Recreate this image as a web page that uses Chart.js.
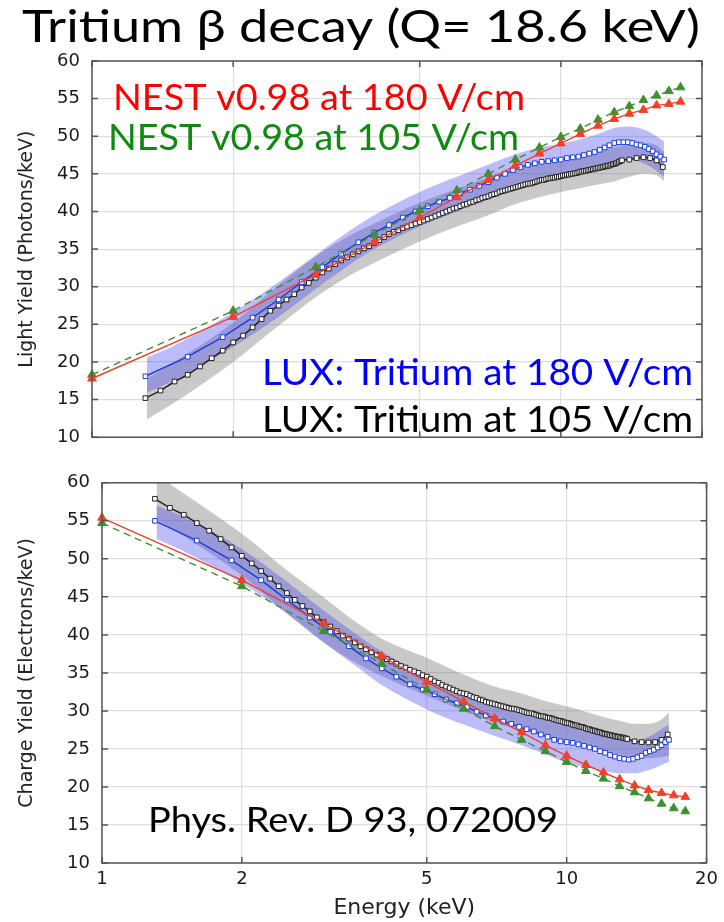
<!DOCTYPE html>
<html>
<head>
<meta charset="utf-8">
<script src="https://cdn.jsdelivr.net/npm/chart.js@4.4.0/dist/chart.umd.min.js"></script>
<style>
    html, body { margin: 0; padding: 0; background: #fff; }
    #wrap { position: relative; width: 724px; height: 922px; }
    #lightChart { position: absolute; left: 0; top: 0; }
    #chargeChart { position: absolute; left: 0; top: 460px; }
</style>
</head>
<body>
<div id="wrap">
    <canvas id="lightChart" width="724" height="460"></canvas>
    <canvas id="chargeChart" width="724" height="462"></canvas>
</div>
<script>
// energy ticks (keV)
const energyTicks = [1, 2, 5, 10, 20];

// NEST v0.98 model points
const nestEnergy = [1, 2, 3, 4, 5, 6, 7, 8, 9, 10, 11, 12, 13, 14, 15, 16, 17, 18];
const nestLight180 = [17.8, 26.0, 31.6, 35.9, 39.2, 41.9, 44.2, 46.1, 47.7, 49.05, 50.3, 51.4, 52.3, 53.0, 53.5, 54.1, 54.3, 54.6];
const nestLight105 = [18.3, 26.8, 32.6, 36.9, 40.2, 42.8, 45.0, 46.9, 48.5, 49.9, 51.0, 52.2, 53.2, 54.0, 54.8, 55.4, 56.0, 56.5];
const nestCharge180 = [55.4, 47.2, 41.5, 37.2, 33.8, 31.25, 29.0, 27.2, 25.5, 24.1, 22.9, 21.9, 21.0, 20.2, 19.6, 19.2, 18.9, 18.7];
const nestCharge105 = [54.7, 46.4, 40.5, 36.2, 32.8, 30.3, 28.0, 26.2, 24.7, 23.3, 22.1, 21.1, 20.1, 19.3, 18.5, 17.8, 17.2, 16.8];

// LUX tritium at 180 V/cm
const lux180Energy = [1.3, 1.6, 1.9, 2.2, 2.5, 2.8, 3.1, 3.4, 3.7, 4.0,
    4.3, 4.6, 4.9, 5.2, 5.5, 5.8, 6.1, 6.4, 6.7, 7.0,
    7.3, 7.6, 7.9, 8.2, 8.5, 8.8, 9.1, 9.4, 9.7, 10.0,
    10.3, 10.6, 10.9, 11.2, 11.5, 11.8, 12.1, 12.4, 12.7, 13.0,
    13.3, 13.6, 13.9, 14.2, 14.5, 14.8, 15.1, 15.4, 15.7, 16.0,
    16.3, 16.6];
const lux180Light = [18.1, 20.7, 23.3, 25.9, 28.3, 30.6, 32.6, 34.4, 35.9, 37.2,
    38.2, 39.2, 40.0, 40.7, 41.3, 41.8, 42.4, 42.9, 43.4, 43.9,
    44.5, 45.0, 45.5, 45.9, 46.2, 46.4, 46.6, 46.7, 46.8, 46.9,
    47.1, 47.2, 47.3, 47.5, 47.7, 47.9, 48.2, 48.5, 48.8, 49.1,
    49.2, 49.2, 49.2, 49.1, 48.9, 48.8, 48.6, 48.3, 48.0, 47.6,
    47.3, 46.9];
const lux180Charge = [55.0, 52.4, 49.8, 47.2, 44.6, 42.3, 40.4, 38.5, 36.9, 35.6,
    34.5, 33.5, 32.8, 32.2, 31.5, 31.0, 30.5, 29.9, 29.4, 29.0,
    28.6, 28.3, 27.9, 27.6, 27.3, 26.9, 26.6, 26.2, 26.0, 25.9,
    25.8, 25.6, 25.4, 25.2, 25.0, 24.7, 24.5, 24.2, 24.0, 23.8,
    23.7, 23.6, 23.7, 23.9, 24.1, 24.5, 24.7, 24.9, 25.2, 25.5,
    25.9, 26.2];

// LUX tritium at 105 V/cm
const lux105Energy = [1.3, 1.4, 1.5, 1.6, 1.7, 1.8, 1.9,
    2.0, 2.1, 2.2, 2.3, 2.4, 2.5, 2.6, 2.7, 2.8, 2.9,
    3.0, 3.1, 3.2, 3.3, 3.4, 3.5, 3.6, 3.7, 3.8, 3.9,
    4.0, 4.1, 4.2, 4.3, 4.4, 4.5, 4.6, 4.7, 4.8, 4.9,
    5.0, 5.1, 5.2, 5.3, 5.4, 5.5, 5.6, 5.7, 5.8, 5.9,
    6.0, 6.1, 6.2, 6.3, 6.4, 6.5, 6.6, 6.7, 6.8, 6.9,
    7.0, 7.1, 7.2, 7.3, 7.4, 7.5, 7.6, 7.7, 7.8, 7.9,
    8.0, 8.1, 8.2, 8.3, 8.4, 8.5, 8.6, 8.7, 8.8, 8.9,
    9.0, 9.1, 9.2, 9.3, 9.4, 9.5, 9.6, 9.7, 9.8, 9.9,
    10.0, 10.1, 10.2, 10.3, 10.4, 10.5, 10.6, 10.7, 10.8, 10.9,
    11.0, 11.1, 11.2, 11.3, 11.4, 11.5, 11.6, 11.7, 11.8, 11.9,
    12.0, 12.1, 12.2, 12.3, 12.4, 12.5, 12.6, 12.7, 12.8, 12.9,
    13.0, 13.1, 13.2, 13.3, 13.4, 13.5,
    14.0, 14.5, 15.0, 15.5, 16.0, 16.5];
const lux105Light = [15.2, 16.2, 17.4, 18.3, 19.4, 20.5, 21.5,
    22.6, 23.5, 24.6, 25.7, 26.8, 27.5, 28.3, 29.0, 29.9, 30.5,
    31.2, 31.9, 32.4, 33.0, 33.5, 33.9, 34.3, 34.7, 35.1, 35.4,
    35.8, 36.2, 36.6, 37.0, 37.3, 37.5, 37.8, 38.0, 38.2, 38.4,
    38.6, 38.8, 39.0, 39.2, 39.4, 39.6, 39.8, 40.0, 40.2, 40.4,
    40.5, 40.7, 40.9, 41.0, 41.2, 41.3, 41.5, 41.6, 41.8, 41.9,
    42.0, 42.2, 42.3, 42.4, 42.6, 42.7, 42.8, 42.9, 43.0, 43.1,
    43.2, 43.3, 43.4, 43.5, 43.6, 43.7, 43.7, 43.8, 43.9, 44.0,
    44.1, 44.2, 44.2, 44.3, 44.4, 44.4, 44.5, 44.5, 44.6, 44.6,
    44.7, 44.8, 44.8, 44.9, 44.9, 45.0, 45.0, 45.1, 45.1, 45.2,
    45.3, 45.3, 45.4, 45.4, 45.5, 45.5, 45.6, 45.6, 45.7, 45.7,
    45.8, 45.8, 45.9, 45.9, 46.0, 46.0, 46.1, 46.1, 46.2, 46.3,
    46.3, 46.4, 46.5, 46.6, 46.7, 46.8,
    46.9, 47.1, 47.2, 47.1, 46.8, 45.9];
const lux105Charge = [57.9, 56.7, 55.8, 54.7, 53.7, 52.6, 51.5,
    50.4, 49.4, 48.4, 47.4, 46.4, 45.5, 44.6, 43.8, 43.1, 42.3,
    41.7, 41.1, 40.5, 39.9, 39.5, 39.0, 38.5, 38.1, 37.7, 37.4,
    37.1, 36.8, 36.5, 36.2, 35.9, 35.7, 35.4, 35.2, 35.0, 34.7,
    34.5, 34.2, 33.9, 33.7, 33.4, 33.2, 33.0, 32.8, 32.6, 32.4,
    32.3, 32.2, 32.0, 31.8, 31.7, 31.5, 31.4, 31.2, 31.1, 31.0,
    30.9, 30.8, 30.7, 30.6, 30.5, 30.4, 30.3, 30.3, 30.2, 30.1,
    30.0, 29.9, 29.8, 29.7, 29.7, 29.6, 29.5, 29.4, 29.3, 29.3,
    29.2, 29.1, 29.1, 29.0, 28.9, 28.8, 28.7, 28.7, 28.6, 28.5,
    28.4, 28.4, 28.3, 28.2, 28.1, 28.1, 28.0, 27.9, 27.9, 27.8,
    27.7, 27.6, 27.6, 27.5, 27.4, 27.4, 27.3, 27.2, 27.2, 27.1,
    27.0, 27.0, 26.9, 26.9, 26.8, 26.8, 26.7, 26.7, 26.6, 26.6,
    26.6, 26.5, 26.5, 26.4, 26.4, 26.3,
    26.0, 25.9, 25.85, 25.9, 26.2, 26.9];

// uncertainty bands (upper / lower edges)
const bandEnergy = [1.31, 1.5, 2, 2.5, 3, 3.5, 4, 5, 6, 7, 8, 9, 10, 11, 12, 13, 14, 15, 16, 16.6];
const band180LightHi = [20.6, 22.2, 26.6, 30.6, 34.2, 37.2, 39.5, 42.6, 44.6, 46.2, 47.6, 48.5, 49.0, 49.6, 50.3, 51.1, 51.3, 50.9, 50.0, 49.3];
const band180LightLo = [15.9, 17.6, 22.0, 26.0, 29.7, 32.7, 35.0, 38.0, 40.0, 41.6, 43.2, 44.2, 44.6, 45.1, 45.8, 46.7, 46.9, 46.4, 45.4, 44.6];
const band105LightHi = [17.8, 20.0, 25.2, 30.2, 34.0, 36.6, 38.4, 41.2, 43.0, 44.5, 45.6, 46.4, 47.0, 47.5, 48.0, 48.5, 48.9, 49.1, 48.8, 47.9];
const band105LightLo = [12.4, 14.6, 20.0, 24.8, 28.6, 31.3, 33.2, 36.0, 38.0, 39.5, 41.0, 41.9, 42.6, 43.1, 43.6, 44.0, 44.6, 45.0, 44.8, 44.0];
const band180ChargeHi = [57.0, 55.5, 51.3, 47.0, 43.2, 40.2, 37.8, 34.6, 32.6, 31.1, 30.0, 29.0, 28.2, 27.5, 26.8, 26.2, 26.0, 26.6, 27.6, 28.2];
const band180ChargeLo = [52.6, 51.0, 46.8, 42.8, 39.0, 36.0, 33.4, 30.2, 28.2, 26.7, 25.5, 24.3, 23.2, 22.6, 22.1, 21.8, 21.8, 22.2, 22.9, 23.3];
const band105ChargeHi = [61.0, 58.6, 53.3, 48.5, 44.9, 41.8, 39.5, 37.0, 34.8, 33.2, 32.3, 31.3, 30.6, 29.9, 29.2, 28.7, 28.3, 28.3, 28.9, 29.8];
const band105ChargeLo = [55.2, 53.0, 47.8, 42.8, 39.0, 36.4, 34.6, 32.0, 30.0, 28.5, 27.5, 26.8, 26.0, 25.4, 24.8, 24.3, 23.9, 23.8, 23.9, 24.1];

const topLabels = [
    { text: "Tritium \u03b2 decay (Q= 18.6 keV)", x: 22, y: 42, width: 678, size: 44, color: "#000000" },
    { text: "NEST v0.98 at 180 V/cm", x: 113, y: 110, width: 412, size: 37, color: "#ff0000" },
    { text: "NEST v0.98 at 105 V/cm", x: 108, y: 150, width: 411, size: 37, color: "#0e8a0e" },
    { text: "LUX: Tritium at 180 V/cm", x: 262, y: 385, width: 431, size: 36, color: "#0000ff" },
    { text: "LUX: Tritium at 105 V/cm", x: 262, y: 432, width: 431, size: 36, color: "#000000" },
];
const bottomLabels = [
    { text: "Phys. Rev. D 93, 072009", x: 148, y: 372, width: 410, size: 35, color: "#000000" },
];

Chart.defaults.font.family = '"DejaVu Sans", sans-serif';
Chart.defaults.color = "#1a1a1a";

function pts(xs, ys) {
    return xs.map((x, i) => ({ x: x, y: ys[i] }));
}

const framePlugin = {
    id: "frame",
    afterDraw(chart) {
        const ctx = chart.ctx;
        const a = chart.chartArea;
        const xs = chart.scales.x;
        const ys = chart.scales.y;
        ctx.save();
        ctx.strokeStyle = "#555555";
        ctx.lineWidth = 1.5;
        ctx.beginPath();
        xs.ticks.forEach(function (t) {
            const px = xs.getPixelForValue(t.value);
            ctx.moveTo(px, a.bottom);
            ctx.lineTo(px, a.bottom - 6);
            ctx.moveTo(px, a.top);
            ctx.lineTo(px, a.top + 6);
        });
        ys.ticks.forEach(function (t) {
            const py = ys.getPixelForValue(t.value);
            ctx.moveTo(a.left, py);
            ctx.lineTo(a.left + 6, py);
            ctx.moveTo(a.right, py);
            ctx.lineTo(a.right - 6, py);
        });
        ctx.stroke();
        ctx.strokeRect(a.left, a.top, a.right - a.left, a.bottom - a.top);
        ctx.restore();
    },
};

const textPlugin = {
    id: "bigText",
    afterDraw(chart, args, opts) {
        const ctx = chart.ctx;
        (opts.items || []).forEach(function (item) {
            ctx.save();
            ctx.font = item.size + "px Lato";
            const w = ctx.measureText(item.text).width;
            ctx.translate(item.x, item.y);
            ctx.scale(item.width / w, 1);
            ctx.fillStyle = item.color;
            ctx.textBaseline = "alphabetic";
            ctx.fillText(item.text, 0, 0);
            ctx.restore();
        });
    },
};

function lineSet(data, color, style, dashed, fill) {
    return {
        data: data,
        borderColor: color,
        borderWidth: style === "triangle" ? 1.4 : 1.5,
        borderDash: dashed ? [7, 5] : [],
        pointStyle: style,
        pointRadius: style === "triangle" ? 5 : 3.3,
        pointBorderWidth: 1,
        pointBackgroundColor: fill,
        pointBorderColor: color,
        tension: 0,
        clip: 8,
        fill: false,
    };
}

function bandSet(data, color, fill) {
    return {
        data: data,
        borderWidth: 0,
        borderColor: "rgba(0,0,0,0)",
        backgroundColor: color,
        pointRadius: 0,
        cubicInterpolationMode: "monotone",
        fill: fill,
    };
}

function makeChart(id, s) {
    return new Chart(document.getElementById(id), {
        type: "line",
        data: {
            datasets: [
                lineSet(pts(nestEnergy, s.nest180), "#f2402a", "triangle", false, "#f2402a"),
                lineSet(pts(nestEnergy, s.nest105), "#3f8f2f", "triangle", true, "#3f8f2f"),
                lineSet(pts(lux180Energy, s.lux180), "#1c3ee0", "rect", false, "#ffffff"),
                lineSet(pts(lux105Energy, s.lux105), "#222222", "rect", false, "#ffffff"),
                bandSet(pts(bandEnergy, s.b180Hi), "rgba(70,70,240,0.36)", "+1"),
                bandSet(pts(bandEnergy, s.b180Lo), "rgba(0,0,0,0)", false),
                bandSet(pts(bandEnergy, s.b105Hi), "rgba(120,120,120,0.40)", "+1"),
                bandSet(pts(bandEnergy, s.b105Lo), "rgba(0,0,0,0)", false),
            ],
        },
        options: {
            responsive: false,
            animation: false,
            devicePixelRatio: 1,
            layout: { padding: s.padding },
            plugins: {
                legend: { display: false },
                tooltip: { enabled: false },
                bigText: { items: s.labels },
            },
            scales: {
                x: {
                    type: "logarithmic",
                    min: 1,
                    max: 20,
                    afterBuildTicks: function (scale) {
                        scale.ticks = energyTicks.map((v) => ({ value: v }));
                    },
                    afterFit: function (scale) {
                        scale.height = s.xHeight;
                    },
                    grid: { color: "#dedede", lineWidth: 1.2, drawTicks: false },
                    border: { display: false },
                    ticks: {
                        display: s.showX,
                        padding: 6,
                        font: { size: 18 },
                        maxRotation: 0,
                        callback: (v) => String(v),
                    },
                    title: {
                        display: s.showX,
                        text: "Energy (keV)",
                        font: { size: 22 },
                        color: "#222222",
                        padding: { top: 0, bottom: 1 },
                    },
                },
                y: {
                    min: 10,
                    max: 60,
                    afterFit: function (scale) {
                        scale.width = s.yWidth;
                    },
                    grid: { color: "#dedede", lineWidth: 1.2, drawTicks: false },
                    border: { display: false },
                    ticks: { stepSize: 5, padding: 12, font: { size: 18 } },
                    title: {
                        display: true,
                        text: s.yTitle,
                        font: { size: 19 },
                        color: "#222222",
                        padding: { top: 16, bottom: 0 },
                    },
                },
            },
        },
        plugins: [framePlugin, textPlugin],
    });
}

makeChart("lightChart", {
    nest180: nestLight180,
    nest105: nestLight105,
    lux180: lux180Light,
    lux105: lux105Light,
    b180Hi: band180LightHi,
    b180Lo: band180LightLo,
    b105Hi: band105LightHi,
    b105Lo: band105LightLo,
    yTitle: "Light Yield (Photons/keV)",
    labels: topLabels,
    showX: false,
    xHeight: 12,
    yWidth: 92,
    padding: { top: 61, right: 22, left: 0, bottom: 0 },
});

makeChart("chargeChart", {
    nest180: nestCharge180,
    nest105: nestCharge105,
    lux180: lux180Charge,
    lux105: lux105Charge,
    b180Hi: band180ChargeHi,
    b180Lo: band180ChargeLo,
    b105Hi: band105ChargeHi,
    b105Lo: band105ChargeLo,
    yTitle: "Charge Yield (Electrons/keV)",
    labels: bottomLabels,
    showX: true,
    xHeight: 59,
    yWidth: 102,
    padding: { top: 17, right: 13, left: 0, bottom: 0 },
});
</script>
</body>
</html>
